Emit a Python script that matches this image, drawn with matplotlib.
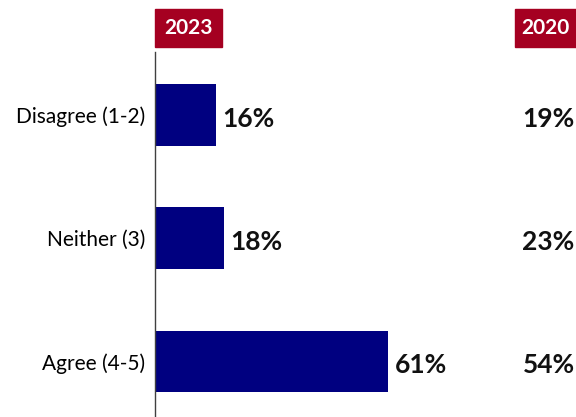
import matplotlib.pyplot as plt
from matplotlib.patches import Rectangle

# Survey results: share of respondents per answer group
categories = ["Disagree (1-2)", "Neither (3)", "Agree (4-5)"]
vals_2023 = [16, 18, 61]
vals_2020 = [19, 23, 54]
years = ["2023", "2020"]

plt.rcParams['font.family'] = ['Lato', 'DejaVu Sans']

navy = "#000080"
badge_red = "#A50021"

fig = plt.figure(figsize=(5.76, 4.17), dpi=100)
ax = fig.add_axes([155 / 576, 0, 421 / 576, 365 / 417])

pos = range(len(categories))
ax.barh(pos, vals_2023, height=0.5, color=navy)
ax.set_xlim(0, 110)
ax.set_ylim(2.45, -0.51)

ax.set_yticks(list(pos))
ax.set_yticklabels(categories, fontsize=15)
ax.tick_params(axis='y', length=0, pad=7)
ax.set_xticks([])
for side in ["top", "right", "bottom"]:
    ax.spines[side].set_visible(False)
ax.spines["left"].set_color("#404040")
ax.spines["left"].set_linewidth(1)

# value labels for 2023 next to bars, 2020 in a column on the right
for i, (v23, v20) in enumerate(zip(vals_2023, vals_2020)):
    ax.text(v23 + 1.6, i + 0.03, f"{v23}%", va="center", ha="left",
            fontsize=19, fontweight="bold", color="#111111")
    ax.text(0.997, i + 0.03, f"{v20}%", transform=ax.get_yaxis_transform(),
            va="center", ha="right", fontsize=19, fontweight="bold",
            color="#111111")

# year badges at the top
for (x0, x1), label in zip([(155, 222), (515, 576)], years):
    fig.patches.append(Rectangle((x0 / 576, 1 - 47 / 417), (x1 - x0) / 576,
                                 38 / 417, transform=fig.transFigure,
                                 color=badge_red))
    fig.text((x0 + x1) / 2 / 576, 1 - 28 / 417, label, ha="center",
             va="center", color="white", fontsize=15, fontweight="bold")

fig.savefig("out.png", dpi=100)
